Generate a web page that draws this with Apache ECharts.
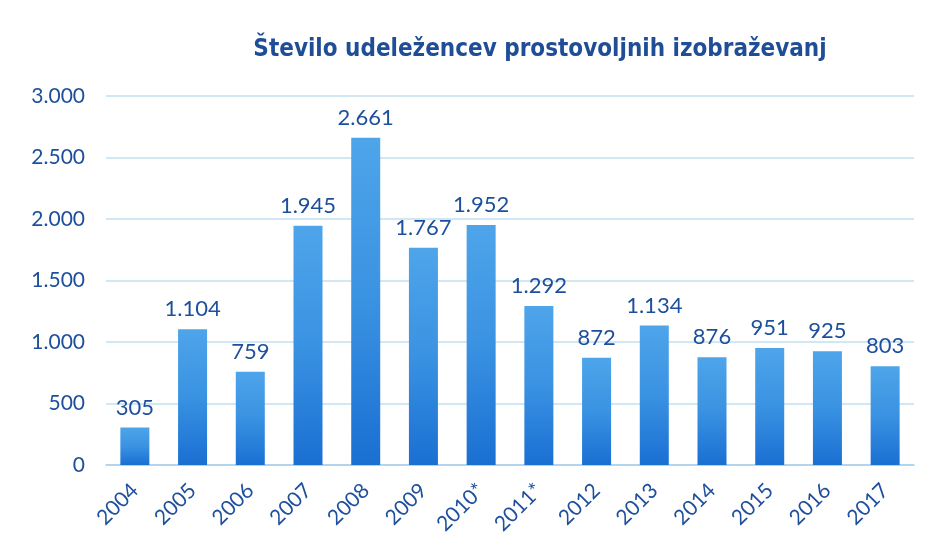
<!DOCTYPE html>
<html><head><meta charset="utf-8">
<script src="https://cdn.jsdelivr.net/npm/echarts@6/dist/echarts.min.js"></script>
<style>html,body{margin:0;padding:0;background:#fff}#c{width:933px;height:560px}</style>
</head><body><div id="c"></div>
<script>
const categories = ['2004','2005','2006','2007','2008','2009','2010*','2011*','2012','2013','2014','2015','2016','2017'];
const values = [305,1104,759,1945,2661,1767,1952,1292,872,1134,876,951,925,803];
const title = 'Število udeležencev prostovoljnih izobraževanj';
const fmt = v => String(v).replace(/\B(?=(\d{3})+(?!\d))/g, '.');
const chart = echarts.init(document.getElementById('c'));
const textColor = '#1d4f9c';
chart.setOption({
  backgroundColor: '#ffffff',
  animation: false,
  title: {
    text: title, left: 535, top: 33, textAlign: 'center',
    textStyle: {fontFamily: 'Liberation Sans Narrow, DejaVu Sans Condensed, sans-serif', fontWeight: 'bold', fontSize: 24, color: '#1f4e96'}
  },
  grid: {left: 106, right: 19, top: 96, bottom: 95},
  xAxis: {
    type: 'category', data: categories,
    axisLine: {lineStyle: {color: '#a9cfe8', width: 1.5}},
    axisTick: {show: false},
    axisLabel: {rotate: 45, interval: 0, color: textColor, fontFamily: 'Lato, Open Sans, sans-serif', fontSize: 21, margin: 22}
  },
  yAxis: {
    type: 'value', min: 0, max: 3000, interval: 500,
    axisLine: {show: false}, axisTick: {show: false},
    splitLine: {lineStyle: {color: '#c3dff0', width: 1.5}},
    axisLabel: {color: textColor, fontFamily: 'Lato, Open Sans, sans-serif', fontSize: 21, margin: 21, formatter: fmt}
  },
  series: [{
    type: 'bar', data: values, barWidth: 29,
    itemStyle: {color: new echarts.graphic.LinearGradient(0,0,0,1,[
      {offset: 0, color: '#4ea5ea'}, {offset: 0.5, color: '#3a92e2'}, {offset: 1, color: '#1a6fd2'}])},
    label: {show: true, position: 'top', distance: 9, color: textColor, fontFamily: 'Lato, Open Sans, sans-serif', fontSize: 22, formatter: p => fmt(p.value)}
  }]
});
</script></body></html>
